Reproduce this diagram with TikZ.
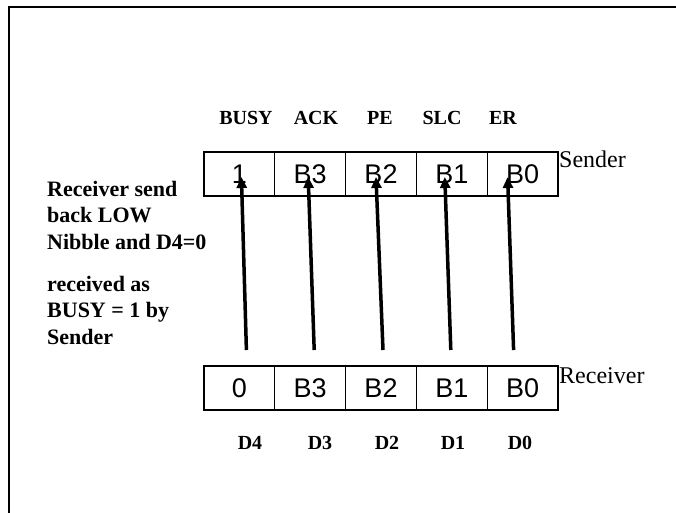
\documentclass[tikz,border=0pt]{standalone}
\usepackage{fontspec}
\setmainfont{Liberation Serif}
\newfontfamily\arialfont{Liberation Sans}
\usetikzlibrary{positioning, arrows.meta}

\begin{document}
\begin{tikzpicture}[
    x=1pt, y=-1pt,
    % Styles
    cell/.style={rectangle, draw, line width=1pt, outer sep=0pt, inner sep=0pt,
        minimum width=70.8pt, minimum height=44pt, text height=19pt, text depth=0pt,
        font=\arialfont\fontsize{27}{29}\selectfont},
    sig/.style={inner sep=0pt, font=\bfseries\fontsize{20}{22}\selectfont},
    side/.style={inner sep=1pt, anchor=north west, font=\fontsize{24}{26}\selectfont},
    note/.style={inner sep=0pt, anchor=north west, align=left, font=\bfseries\fontsize{22}{26.5}\selectfont},
    flow/.style={line width=3.5pt, -{Triangle[length=11pt, width=10pt]}}
]
    \useasboundingbox (0,0) rectangle (676,512);

    % --- Page frame ---
    \draw [line width=2.5pt] (9,514) -- (9,7) -- (678,7);

    % --- Sender register ---
    \node [cell, anchor=north west] (s1) at (204,152) {1};
    \node [cell, right=0pt of s1] (s2) {B3};
    \node [cell, right=0pt of s2] (s3) {B2};
    \node [cell, right=0pt of s3] (s4) {B1};
    \node [cell, right=0pt of s4] (s5) {B0};
    \draw [line width=2pt] (s1.north west) rectangle (s5.south east);
    \node [side, yshift=2pt] (sender) at (s5.north east) {Sender};

    % --- Receiver register ---
    \node [cell, anchor=north west] (r1) at (204,366) {0};
    \node [cell, right=0pt of r1] (r2) {B3};
    \node [cell, right=0pt of r2] (r3) {B2};
    \node [cell, right=0pt of r3] (r4) {B1};
    \node [cell, right=0pt of r4] (r5) {B0};
    \draw [line width=2pt] (r1.north west) rectangle (r5.south east);
    \node [side] (receiver) at (r5.north east) {Receiver};

    % --- Status lines ---
    \node [sig] (busy) at (246,118) {BUSY};
    \node [sig] (ack) at (316,118) {ACK};
    \node [sig] (pe) at (380,118) {PE};
    \node [sig] (slc) at (442,118) {SLC};
    \node [sig] (er) at (503,118) {ER};

    % --- Data lines ---
    \node [sig] (d4) at (250,443) {D4};
    \node [sig] (d3) at (320,443) {D3};
    \node [sig] (d2) at (387,443) {D2};
    \node [sig] (d1) at (453,443) {D1};
    \node [sig] (d0) at (520,443) {D0};

    % --- Notes ---
    \node [note] (sendnote) at (47,181) {Receiver send\\back LOW\\Nibble and D4=0};
    \node [note] (busynote) at (47,276) {received as\\BUSY = 1 by\\Sender};

    % --- Connections ---
    \draw [flow] ([xshift=7pt, yshift=16pt]r1.north) -- ([xshift=2pt, yshift=19pt]s1.south);
    \draw [flow] ([xshift=4pt, yshift=16pt]r2.north) -- ([xshift=-2pt, yshift=19pt]s2.south);
    \draw [flow] ([xshift=2pt, yshift=16pt]r3.north) -- ([xshift=-5pt, yshift=19pt]s3.south);
    \draw [flow] ([xshift=-1pt, yshift=16pt]r4.north) -- ([xshift=-7pt, yshift=19pt]s4.south);
    \draw [flow] ([xshift=-9pt, yshift=16pt]r5.north) -- ([xshift=-15pt, yshift=19pt]s5.south);

\end{tikzpicture}
\end{document}
